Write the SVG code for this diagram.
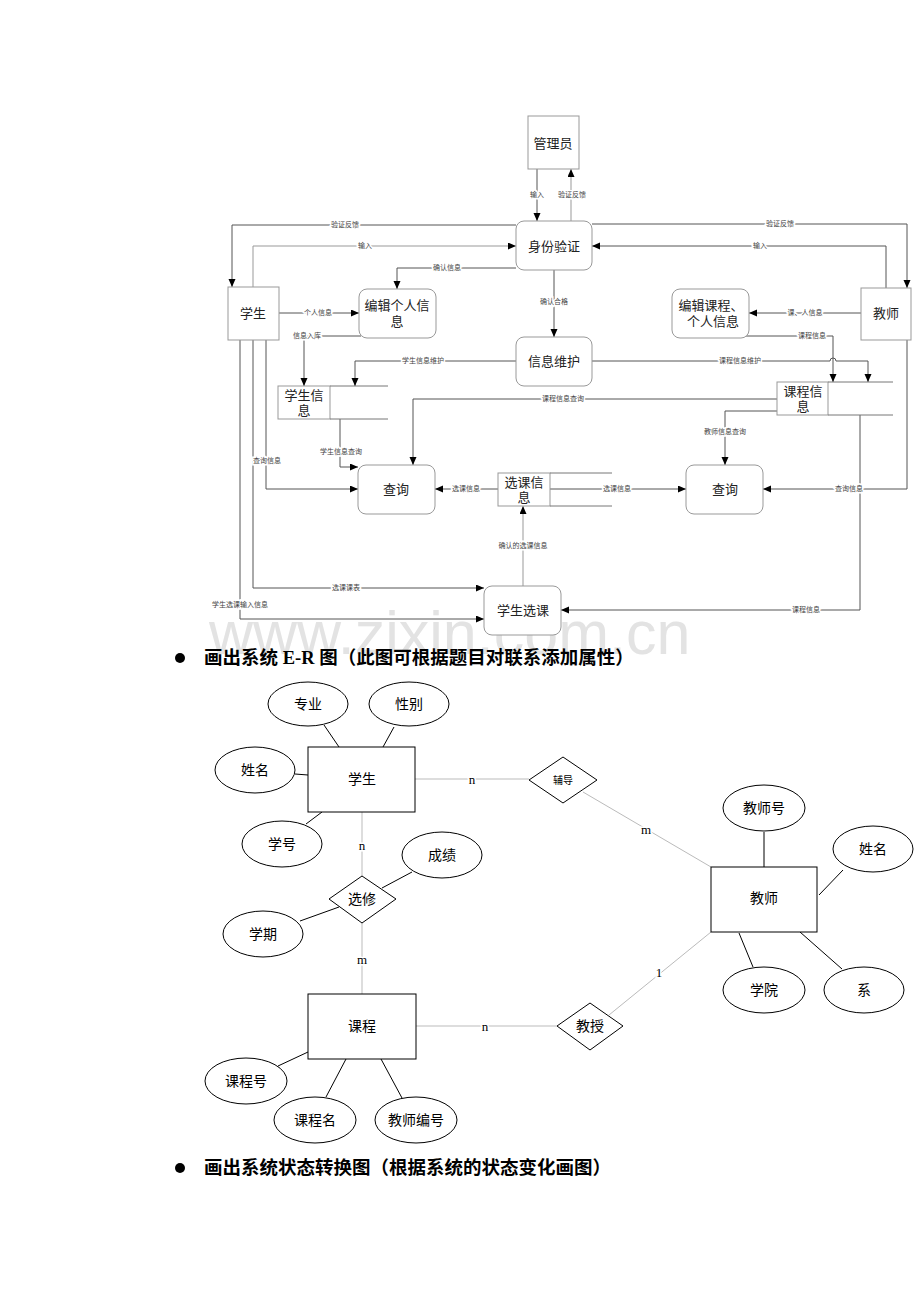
<svg xmlns="http://www.w3.org/2000/svg" width="920" height="1302" viewBox="0 0 920 1302">
<defs>
<marker id="arr" markerUnits="userSpaceOnUse" markerWidth="9" markerHeight="8" refX="8" refY="3.5" orient="auto">
<path d="M0,0 L8,3.5 L0,7 z" fill="#000"/>
</marker>
<style>
.bg{fill:#fff}
.ent{fill:#fff;stroke:#999;stroke-width:1}
.proc{fill:#fff;stroke:#999;stroke-width:1}
.store{fill:none;stroke:#777;stroke-width:1}
.nt{font-family:"Liberation Serif","Noto Sans CJK SC",serif;font-size:13px;fill:#222;text-anchor:middle;dominant-baseline:central}
.fl{fill:none;stroke:#555;stroke-width:1;marker-end:url(#arr)}
.lb{font-family:"Liberation Serif","Noto Sans CJK SC",serif;font-size:7px;fill:#444;text-anchor:middle;dominant-baseline:central;stroke:#fff;stroke-width:3;paint-order:stroke}
.head{font-family:"Liberation Serif","Noto Sans CJK SC",serif;font-size:18.5px;fill:#000;font-weight:bold}
.wm{font-family:"Liberation Sans",Arial,sans-serif;font-size:61px;fill:#e3e3e3}
.erbox{fill:#fff;stroke:#000;stroke-width:1}
.att{fill:#fff;stroke:#000;stroke-width:1}
.et{font-family:"Liberation Serif","Noto Sans CJK SC",serif;font-size:14px;fill:#000;text-anchor:middle;dominant-baseline:central}
.al{stroke:#000;stroke-width:1}
.rl{stroke:#bbb;stroke-width:1}
.card{font-family:"Liberation Serif","Times New Roman",serif;font-size:13px;fill:#000;text-anchor:middle;dominant-baseline:central;stroke:#fff;stroke-width:3;paint-order:stroke}
</style>
</defs>
<rect x="0" y="0" width="920" height="1302" class="bg"/>

<!-- watermark -->
<text class="wm" x="209" y="654">www.zixin.com.cn</text>

<!-- DFD connectors -->
<g id="dfd-connectors">
<path class="fl" d="M537,169 V221"/>
<path class="fl" d="M571,221 V169" style="stroke:#999"/>
<path class="fl" d="M516,225 H232 V287"/>
<path class="fl" d="M253,287 V246 H516" style="stroke:#999"/>
<path class="fl" d="M592,224 H907 V288"/>
<path class="fl" d="M886,288 V246 H592"/>
<path class="fl" d="M516,268 H397 V289"/>
<path class="fl" d="M554,270 V337"/>
<path class="fl" d="M279,313 H359"/>
<path class="fl" d="M361,336 H304 V386"/>
<path class="fl" d="M516,361 H355 V386"/>
<path class="fl" d="M592,361 H830 a3,3 0 0 1 6,0 H868 V382"/>
<path class="fl" d="M861,313 H749"/>
<path class="fl" d="M745,336 H833 V382"/>
<path class="fl" d="M777,399 H413 V465"/>
<path class="fl" d="M777,411 H725 V465"/>
<path class="fl" d="M340,419 V467 H358"/>
<path class="fl" d="M266,340 V489 H358"/>
<path class="fl" d="M498,489 H435"/>
<path class="fl" d="M550,489 H686"/>
<path class="fl" d="M907,340 V489 H763"/>
<path class="fl" d="M860,415 V610 H561"/>
<path class="fl" d="M523,586 V506" style="stroke:#999"/>
<path class="fl" d="M253,340 V588 H484"/>
<path class="fl" d="M240,340 V619 H484"/>
<text class="lb" x="537" y="195">输入</text>
<text class="lb" x="572" y="195">验证反馈</text>
<text class="lb" x="345" y="225">验证反馈</text>
<text class="lb" x="365" y="246">输入</text>
<text class="lb" x="780" y="224">验证反馈</text>
<text class="lb" x="760" y="246">输入</text>
<text class="lb" x="447" y="268">确认信息</text>
<text class="lb" x="554" y="302">确认合格</text>
<text class="lb" x="318" y="313">个人信息</text>
<text class="lb" x="307" y="336">信息入库</text>
<text class="lb" x="423" y="361">学生信息维护</text>
<text class="lb" x="740" y="361">课程信息维护</text>
<text class="lb" x="805" y="313">课、人信息</text>
<text class="lb" x="812" y="336">课程信息</text>
<text class="lb" x="563" y="399">课程信息查询</text>
<text class="lb" x="725" y="432">教师信息查询</text>
<text class="lb" x="341" y="452">学生信息查询</text>
<text class="lb" x="267" y="461">查询信息</text>
<text class="lb" x="466" y="489">选课信息</text>
<text class="lb" x="617" y="489">选课信息</text>
<text class="lb" x="849" y="489">查询信息</text>
<text class="lb" x="806" y="610">课程信息</text>
<text class="lb" x="523" y="546">确认的选课信息</text>
<text class="lb" x="346" y="588">选课课表</text>
<text class="lb" x="240" y="605">学生选课输入信息</text>
</g>

<!-- DFD nodes -->
<g id="n-admin"><rect class="ent" x="528" y="116" width="51" height="53"/><text class="nt" x="553" y="143">管理员</text></g>
<g id="n-auth"><rect class="proc" x="516" y="221" width="76" height="49" rx="8"/><text class="nt" x="554" y="246">身份验证</text></g>
<g id="n-student"><rect class="ent" x="228" y="287" width="51" height="53"/><text class="nt" x="253" y="313">学生</text></g>
<g id="n-teacher"><rect class="ent" x="861" y="288" width="50" height="52"/><text class="nt" x="886" y="313">教师</text></g>
<g id="n-editpersonal"><rect class="proc" x="359" y="289" width="77" height="49" rx="8"/><text class="nt" x="397" y="305">编辑个人信</text><text class="nt" x="397" y="321">息</text></g>
<g id="n-editcourse"><rect class="proc" x="672" y="289" width="77" height="49" rx="8"/><text class="nt" x="711" y="305">编辑课程、</text><text class="nt" x="713" y="321">个人信息</text></g>
<g id="n-maint"><rect class="proc" x="516" y="337" width="76" height="49" rx="8"/><text class="nt" x="554" y="361">信息维护</text></g>
<g id="n-stuinfo"><rect class="ent" x="278" y="386" width="52" height="33"/><path class="store" d="M330,386 H388 M330,419 H388"/><text class="nt" x="304" y="395">学生信</text><text class="nt" x="304" y="410">息</text></g>
<g id="n-courseinfo"><rect class="ent" x="777" y="382" width="51" height="33"/><path class="store" d="M828,382 H893 M828,415 H893"/><text class="nt" x="803" y="391">课程信</text><text class="nt" x="803" y="406">息</text></g>
<g id="n-selinfo"><rect class="ent" x="498" y="473" width="52" height="33"/><path class="store" d="M550,473 H612 M550,506 H612"/><text class="nt" x="524" y="482">选课信</text><text class="nt" x="524" y="497">息</text></g>
<g id="n-query1"><rect class="proc" x="358" y="465" width="77" height="49" rx="8"/><text class="nt" x="396" y="489">查询</text></g>
<g id="n-query2"><rect class="proc" x="686" y="465" width="77" height="49" rx="8"/><text class="nt" x="725" y="489">查询</text></g>
<g id="n-select"><rect class="proc" x="484" y="586" width="77" height="49" rx="8"/><text class="nt" x="523" y="610">学生选课</text></g>

<!-- headings -->
<g id="heading1"><circle cx="180" cy="658" r="5" fill="#000"/><text class="head" x="204" y="664">画出系统 <tspan font-family="Liberation Serif,serif">E-R</tspan> 图（此图可根据题目对联系添加属性）</text></g>
<g id="heading2"><circle cx="180" cy="1168" r="5" fill="#000"/><text class="head" x="204" y="1174">画出系统状态转换图（根据系统的状态变化画图）</text></g>

<!-- ER connectors -->
<g id="er-connectors">
<line class="al" x1="324" y1="725" x2="339" y2="747"/>
<line class="al" x1="394" y1="727" x2="383" y2="747"/>
<line class="al" x1="295" y1="774" x2="308" y2="775"/>
<line class="al" x1="306" y1="824" x2="322" y2="812"/>
<line class="al" x1="412" y1="872" x2="382" y2="888"/>
<line class="al" x1="300" y1="921" x2="339" y2="907"/>
<line class="rl" x1="362" y1="812" x2="362" y2="876"/>
<line class="rl" x1="362" y1="923" x2="362" y2="994"/>
<line class="rl" x1="415" y1="779" x2="529" y2="779"/>
<line class="rl" x1="583" y1="792" x2="711" y2="867"/>
<line class="al" x1="764" y1="832" x2="764" y2="867"/>
<line class="al" x1="843" y1="870" x2="819" y2="895"/>
<line class="al" x1="739" y1="933" x2="753" y2="967"/>
<line class="al" x1="800" y1="932" x2="842" y2="969"/>
<line class="rl" x1="416" y1="1026" x2="557" y2="1026"/>
<line class="rl" x1="609" y1="1015" x2="711" y2="932"/>
<line class="al" x1="278" y1="1066" x2="308" y2="1052"/>
<line class="al" x1="326" y1="1097" x2="346" y2="1059"/>
<line class="al" x1="402" y1="1098" x2="381" y2="1059"/>
<text class="card" x="362" y="845">n</text>
<text class="card" x="362" y="959">m</text>
<text class="card" x="472" y="779">n</text>
<text class="card" x="646" y="829">m</text>
<text class="card" x="485" y="1026">n</text>
<text class="card" x="659" y="972">1</text>
</g>

<!-- ER nodes -->
<g id="e-student"><rect class="erbox" x="308" y="747" width="107" height="65"/><text class="et" x="362" y="779">学生</text></g>
<g id="a-major"><ellipse class="att" cx="308" cy="704" rx="40" ry="22"/><text class="et" x="308" y="704">专业</text></g>
<g id="a-sex"><ellipse class="att" cx="409" cy="704" rx="40" ry="22"/><text class="et" x="409" y="704">性别</text></g>
<g id="a-sname"><ellipse class="att" cx="255" cy="770" rx="40" ry="23"/><text class="et" x="255" y="770">姓名</text></g>
<g id="a-sno"><ellipse class="att" cx="282" cy="844" rx="40" ry="23"/><text class="et" x="282" y="844">学号</text></g>
<g id="a-grade"><ellipse class="att" cx="442" cy="855" rx="40" ry="23"/><text class="et" x="442" y="855">成绩</text></g>
<g id="a-term"><ellipse class="att" cx="263" cy="934" rx="40" ry="23"/><text class="et" x="263" y="934">学期</text></g>
<g id="r-elective"><polygon class="att" points="329,899 362,876 396,899 362,923"/><text class="et" x="362" y="899">选修</text></g>
<g id="r-tutor"><polygon class="att" points="529,780 563,757 597,780 563,803"/><text class="et" x="563" y="780" style="font-size:10px">辅导</text></g>
<g id="e-teacher"><rect class="erbox" x="711" y="867" width="106" height="65"/><text class="et" x="764" y="898">教师</text></g>
<g id="a-tno"><ellipse class="att" cx="764" cy="808" rx="41" ry="23"/><text class="et" x="764" y="808">教师号</text></g>
<g id="a-tname"><ellipse class="att" cx="873" cy="849" rx="40" ry="23"/><text class="et" x="873" y="849">姓名</text></g>
<g id="a-college"><ellipse class="att" cx="764" cy="990" rx="41" ry="23"/><text class="et" x="764" y="990">学院</text></g>
<g id="a-dept"><ellipse class="att" cx="864" cy="990" rx="40" ry="23"/><text class="et" x="864" y="990">系</text></g>
<g id="r-teach"><polygon class="att" points="557,1026 590,1003 623,1026 590,1050"/><text class="et" x="590" y="1026">教授</text></g>
<g id="e-course"><rect class="erbox" x="308" y="994" width="108" height="65"/><text class="et" x="362" y="1026">课程</text></g>
<g id="a-cno"><ellipse class="att" cx="246" cy="1081" rx="41" ry="23"/><text class="et" x="246" y="1081">课程号</text></g>
<g id="a-cname"><ellipse class="att" cx="315" cy="1120" rx="41" ry="23"/><text class="et" x="315" y="1120">课程名</text></g>
<g id="a-ctno"><ellipse class="att" cx="416" cy="1120" rx="41" ry="23"/><text class="et" x="416" y="1120">教师编号</text></g>
</svg>
